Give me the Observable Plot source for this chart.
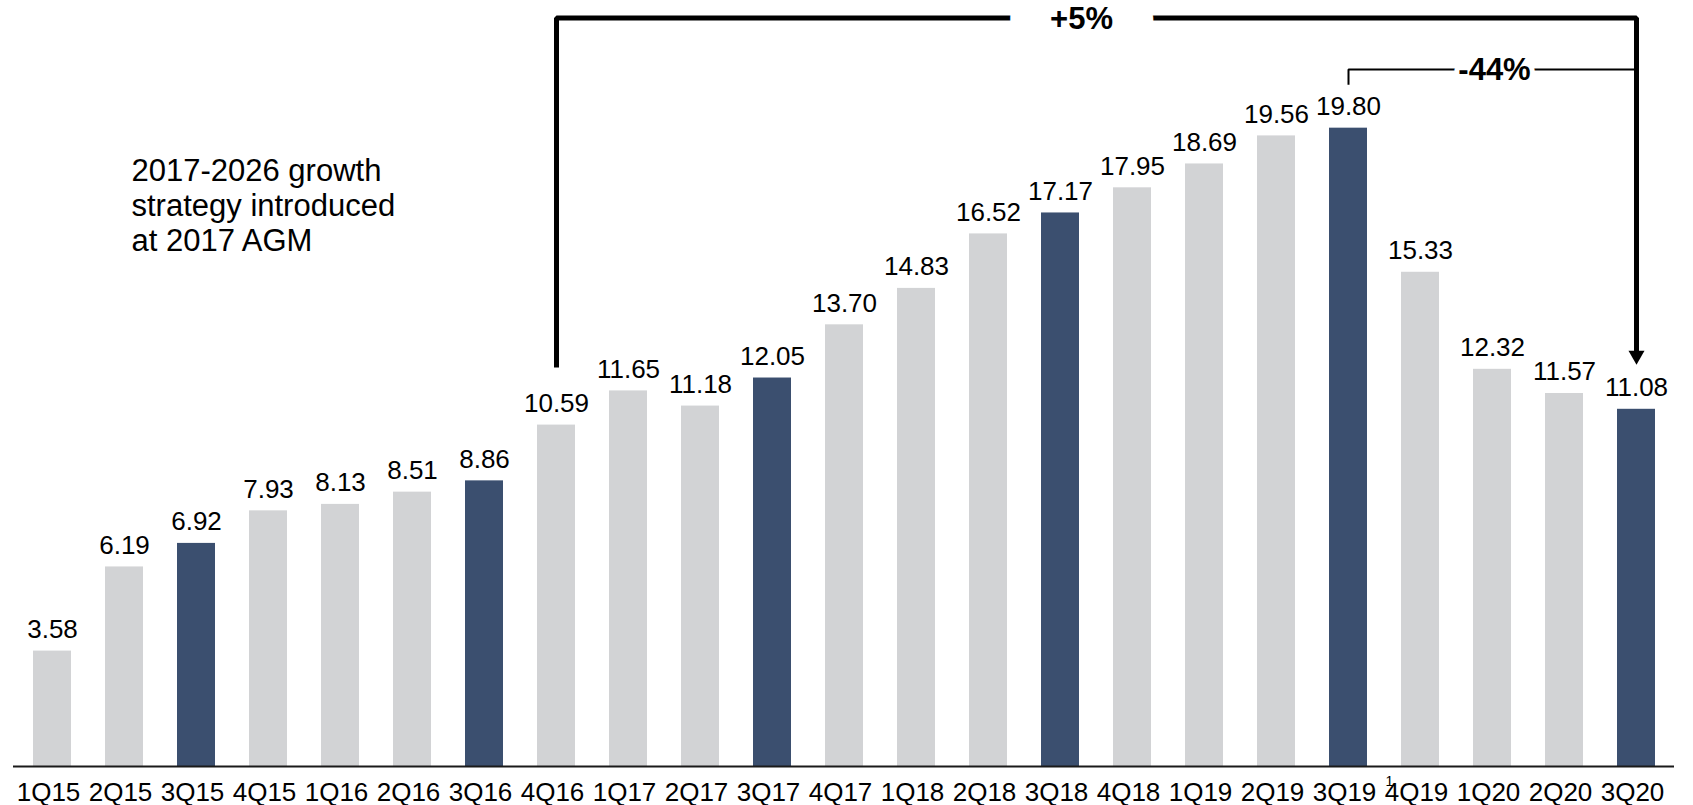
<!DOCTYPE html>
<html>
<head>
<meta charset="utf-8">
<script src="https://cdn.jsdelivr.net/npm/d3@7"></script>
<script src="https://cdn.jsdelivr.net/npm/@observablehq/plot@0.6"></script>
<style>
  html, body { margin: 0; padding: 0; background: #fff; }
  #chart { width: 1693px; height: 805px; overflow: hidden; }
</style>
</head>
<body>
<div id="chart"></div>
<script>
// ---- data ----
const quarters = ["1Q15","2Q15","3Q15","4Q15","1Q16","2Q16","3Q16","4Q16","1Q17","2Q17","3Q17","4Q17",
                  "1Q18","2Q18","3Q18","4Q18","1Q19","2Q19","3Q19","4Q19","1Q20","2Q20","3Q20"];
const values = [3.58, 6.19, 6.92, 7.93, 8.13, 8.51, 8.86, 10.59, 11.65, 11.18, 12.05, 13.70,
                14.83, 16.52, 17.17, 17.95, 18.69, 19.56, 19.80, 15.33, 12.32, 11.57, 11.08];
const highlighted = ["3Q15","3Q16","3Q17","3Q18","3Q19","3Q20"];

// annotation: long bracket (+5%) from 4Q16 to 3Q20, short bracket (-44%) from 3Q19 to 3Q20
const bigBracket = [
  {x: "4Q16", y: 12.38},
  {x: "4Q16", y: 23.22},
  {x: "3Q20", y: 23.22},
  {x: "3Q20", y: 12.75}
];
const smallBracket = [
  {x: "3Q19", y: 21.15},
  {x: "3Q19", y: 21.62},
  {x: "3Q20", y: 21.62}
];
const arrowHead = [{x: "3Q20", y: 12.75}];
const bracketLabels = [
  {x: "3Q18", y: 23.22, text: "+5%", dx: 21, halo: 82, dy: 1.5},
  {x: "1Q20", y: 21.62, text: "-44%", dx: 2, halo: 10, dy: 1}
];
const notes = [{x: "2Q15", y: 16.0, text: "2017-2026 growth\nstrategy introduced\nat 2017 AGM"}];
const footnotes = [{x: "4Q19", text: "1"}];

const rows = quarters.map((q, i) => ({q, v: values[i], hl: highlighted.includes(q)}));

const GRAY = "#d2d3d5";
const NAVY = "#3b4f6f";
const FONT = "'Liberation Sans', Arial, Helvetica, sans-serif";

const chart = Plot.plot({
  width: 1693,
  height: 805,
  marginLeft: 13,
  marginRight: 19,
  marginTop: 0,
  marginBottom: 39,
  style: {fontFamily: FONT, background: "#fff", color: "#000", overflow: "visible"},
  x: {domain: quarters, paddingInner: 0.473, paddingOuter: 0.25, label: null, axis: null},
  y: {domain: [0, 23.76], axis: null},
  marks: [
    Plot.barY(rows, {x: "q", y: "v", fill: d => d.hl ? NAVY : GRAY}),
    Plot.ruleY([0], {stroke: "#1a1a1a", strokeWidth: 2}),
    // category tick labels
    Plot.text(quarters, {x: d => d, text: d => d, frameAnchor: "bottom", dy: 34, dx: -4,
                         lineAnchor: "bottom", fontSize: 26, fill: "#000"}),
    Plot.text(rows, {x: "q", y: "v", text: d => d3.format(".2f")(d.v), dy: -13, lineAnchor: "bottom",
                     fontSize: 26, fill: "#000"}),
    Plot.line(bigBracket, {x: "x", y: "y", stroke: "#000", strokeWidth: 5,
                           strokeLinejoin: "miter", strokeLinecap: "butt", curve: "linear"}),
    Plot.dot(arrowHead, {x: "x", y: "y", symbol: "triangle", rotate: 180, r: 5.94, fill: "#000", stroke: null}),
    Plot.line(smallBracket, {x: "x", y: "y", stroke: "#000", strokeWidth: 2,
                             strokeLinejoin: "miter", strokeLinecap: "butt"}),
    ...bracketLabels.map(b => Plot.text([b], {x: "x", y: "y", text: "text", dx: b.dx, dy: b.dy,
                     lineAnchor: "middle", fontSize: 31, fontWeight: "bold", fill: "#000",
                     stroke: "#fff", strokeWidth: b.halo, strokeLinejoin: "round"})),
    Plot.text(notes, {x: "x", y: "y", text: "text", dx: 7, textAnchor: "start", lineAnchor: "bottom",
                      lineHeight: 1.13, fontSize: 31, fill: "#000"}),
    Plot.text(footnotes, {x: "x", text: "text", frameAnchor: "bottom", dx: -31, dy: 19,
                          lineAnchor: "bottom", fontSize: 14, fill: "#000"})
  ]
});
document.getElementById("chart").appendChild(chart);
</script>
</body>
</html>
